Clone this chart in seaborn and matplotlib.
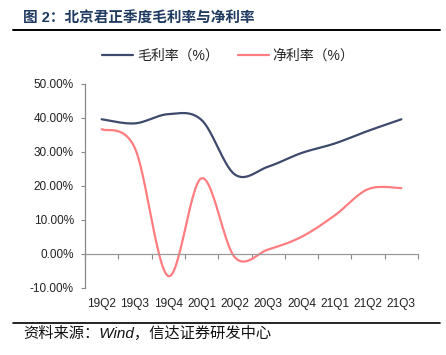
import numpy as np
import matplotlib
matplotlib.use("Agg")
import matplotlib.pyplot as plt
import seaborn as sns

quarters = ['19Q2', '19Q3', '19Q4', '20Q1', '20Q2', '20Q3', '20Q4', '21Q1', '21Q2', '21Q3']
gross_margin = [39.5, 38.3, 41.0, 39.3, 23.3, 25.6, 29.6, 32.4, 36.1, 39.5]
net_margin = [36.6, 31.0, -6.5, 22.2, -1.0, 1.3, 5.0, 11.3, 19.0, 19.3]
gross_label = '毛利率（%）'
net_label = '净利率（%）'
yticks = [-10, 0, 10, 20, 30, 40, 50]
gross_color = '#3E4A6C'
net_color = '#FF7D80'


def smooth(xs, ys, n=30):
    # Excel-style smoothed line: Catmull-Rom segments as cubic Bezier
    px = np.concatenate([[xs[0]], xs, [xs[-1]]]).astype(float)
    py = np.concatenate([[ys[0]], ys, [ys[-1]]]).astype(float)
    outx, outy = [], []
    t = np.linspace(0, 1, n)[:, None]
    for i in range(1, len(px) - 2):
        p0 = np.array([px[i], py[i]])
        p3 = np.array([px[i + 1], py[i + 1]])
        c1 = p0 + (p3 - np.array([px[i - 1], py[i - 1]])) / 6
        c2 = p3 - (np.array([px[i + 2], py[i + 2]]) - p0) / 6
        pts = (1 - t) ** 3 * p0 + 3 * (1 - t) ** 2 * t * c1 + 3 * (1 - t) * t ** 2 * c2 + t ** 3 * p3
        if i > 1:
            pts = pts[1:]
        outx.extend(pts[:, 0])
        outy.extend(pts[:, 1])
    return np.array(outx), np.array(outy)


sns.set_style('white')
plt.rcParams['font.family'] = ['Liberation Sans', 'Noto Sans CJK SC']
plt.rcParams['axes.unicode_minus'] = False

pos = np.arange(len(quarters))
gx, gy = smooth(pos, gross_margin)
nx, ny = smooth(pos, net_margin)

fig = plt.figure(figsize=(4.46, 3.55), dpi=100)
ax = fig.add_axes([85 / 446, 1 - 288 / 355, (418 - 85) / 446, (288 - 83.5) / 355])

sns.lineplot(x=gx, y=gy, sort=False, estimator=None, color=gross_color, linewidth=1.6,
             ax=ax, label=gross_label, legend=False)
sns.lineplot(x=nx, y=ny, sort=False, estimator=None, color=net_color, linewidth=1.6,
             ax=ax, label=net_label, legend=False)

ax.set_xlim(-0.5, len(quarters) - 0.5)
ax.set_ylim(-10, 50)
ax.set_xlabel('')
ax.set_ylabel('')

ax.set_yticks(yticks)
ax.set_yticklabels([f'{v:.2f}%' for v in yticks])
ax.tick_params(axis='y', direction='out', length=3, width=0.8, color='#888888', pad=5,
               left=True, labelsize=8.5, labelcolor='#222222')

ax.set_xticks(np.arange(-0.5, len(quarters)), minor=False)
ax.set_xticklabels([])
ax.set_xticks(pos, minor=True)
ax.set_xticklabels(quarters, minor=True)
ax.tick_params(axis='x', which='major', direction='out', length=3.5, width=0.8,
               color='#888888', bottom=True)
ax.tick_params(axis='x', which='minor', length=0, pad=32, bottom=True,
               labelsize=8.6, labelcolor='#222222')

for s in ['top', 'right']:
    ax.spines[s].set_visible(False)
ax.spines['bottom'].set_position(('data', 0))
ax.spines['bottom'].set_color('#999999')
ax.spines['left'].set_color('#888888')
ax.spines['bottom'].set_linewidth(0.9)
ax.spines['left'].set_linewidth(0.9)
ax.grid(False)

handles = [plt.Line2D([], [], color=gross_color, lw=1.6),
           plt.Line2D([], [], color=net_color, lw=1.6)]
fig.legend(handles, [gross_label, net_label], loc='center', bbox_to_anchor=(0.512, 0.843),
           ncol=2, frameon=False, fontsize=10, handlelength=2.2, handletextpad=0.3,
           columnspacing=1.4)

fig.text(23 / 446, 1 - 19 / 355, '图 2：北京君正季度毛利率与净利率', fontsize=10.5,
         fontweight='bold', color='#1F3A60', va='center', ha='left')
fig.add_artist(plt.Line2D([13 / 446, 440 / 446], [1 - 29.5 / 355, 1 - 29.5 / 355],
                          color='black', lw=1.4))
fig.add_artist(plt.Line2D([13 / 446, 440 / 446], [1 - 322.5 / 355, 1 - 322.5 / 355],
                          color='black', lw=1.2))
fig.text(23 / 446, 1 - 333 / 355, '资料来源：Wind，信达证券研发中心', fontsize=11,
         style='italic', color='#111111', va='center', ha='left')

fig.savefig('out.png', dpi=100)
